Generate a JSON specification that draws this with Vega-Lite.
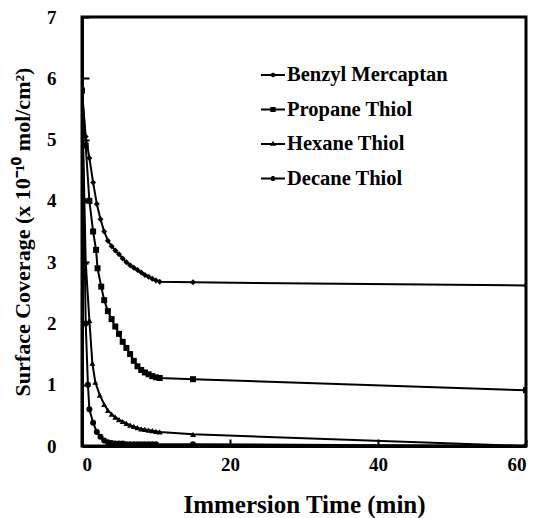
{
  "$schema": "https://vega.github.io/schema/vega-lite/v6.json",
  "width": 444,
  "height": 429,
  "autosize": {"type": "none"},
  "padding": {"left": 82, "top": 17, "right": 12, "bottom": 72},
  "background": "white",
  "config": {
    "view": {"stroke": "black", "strokeWidth": 3},
    "font": "Liberation Serif",
    "axis": {
      "labelFont": "Liberation Serif", "labelFontWeight": "bold", "labelColor": "black",
      "titleFont": "Liberation Serif", "titleFontWeight": "bold", "titleColor": "black",
      "domainColor": "black", "domainWidth": 3, "tickColor": "black", "tickWidth": 2,
      "grid": false
    }
  },
  "data": {"values": [
    {"t": 0, "s": "Benzyl Mercaptan", "v": 5.8},
    {"t": 0.5, "s": "Benzyl Mercaptan", "v": 5.05},
    {"t": 1, "s": "Benzyl Mercaptan", "v": 4.7},
    {"t": 1.5, "s": "Benzyl Mercaptan", "v": 4.3},
    {"t": 2, "s": "Benzyl Mercaptan", "v": 3.95},
    {"t": 2.5, "s": "Benzyl Mercaptan", "v": 3.7},
    {"t": 3, "s": "Benzyl Mercaptan", "v": 3.5},
    {"t": 3.5, "s": "Benzyl Mercaptan", "v": 3.35},
    {"t": 4, "s": "Benzyl Mercaptan", "v": 3.26},
    {"t": 4.5, "s": "Benzyl Mercaptan", "v": 3.19},
    {"t": 5, "s": "Benzyl Mercaptan", "v": 3.13},
    {"t": 5.5, "s": "Benzyl Mercaptan", "v": 3.06},
    {"t": 6, "s": "Benzyl Mercaptan", "v": 3.0},
    {"t": 6.5, "s": "Benzyl Mercaptan", "v": 2.95},
    {"t": 7, "s": "Benzyl Mercaptan", "v": 2.91},
    {"t": 7.5, "s": "Benzyl Mercaptan", "v": 2.87},
    {"t": 8, "s": "Benzyl Mercaptan", "v": 2.83},
    {"t": 8.5, "s": "Benzyl Mercaptan", "v": 2.79},
    {"t": 9, "s": "Benzyl Mercaptan", "v": 2.76},
    {"t": 9.5, "s": "Benzyl Mercaptan", "v": 2.73},
    {"t": 10, "s": "Benzyl Mercaptan", "v": 2.7},
    {"t": 10.5, "s": "Benzyl Mercaptan", "v": 2.68},
    {"t": 15, "s": "Benzyl Mercaptan", "v": 2.67},
    {"t": 60, "s": "Benzyl Mercaptan", "v": 2.62},
    {"t": 0, "s": "Propane Thiol", "v": 5.8},
    {"t": 0.5, "s": "Propane Thiol", "v": 4.9},
    {"t": 1, "s": "Propane Thiol", "v": 4.0},
    {"t": 1.5, "s": "Propane Thiol", "v": 3.5},
    {"t": 1.9, "s": "Propane Thiol", "v": 3.2},
    {"t": 2.1, "s": "Propane Thiol", "v": 2.9},
    {"t": 2.6, "s": "Propane Thiol", "v": 2.6},
    {"t": 3, "s": "Propane Thiol", "v": 2.38},
    {"t": 3.5, "s": "Propane Thiol", "v": 2.2},
    {"t": 4, "s": "Propane Thiol", "v": 2.07},
    {"t": 4.5, "s": "Propane Thiol", "v": 1.95},
    {"t": 5, "s": "Propane Thiol", "v": 1.83},
    {"t": 5.5, "s": "Propane Thiol", "v": 1.7},
    {"t": 6, "s": "Propane Thiol", "v": 1.6},
    {"t": 6.5, "s": "Propane Thiol", "v": 1.5},
    {"t": 7, "s": "Propane Thiol", "v": 1.39},
    {"t": 7.5, "s": "Propane Thiol", "v": 1.3},
    {"t": 8, "s": "Propane Thiol", "v": 1.24},
    {"t": 8.5, "s": "Propane Thiol", "v": 1.2},
    {"t": 9, "s": "Propane Thiol", "v": 1.17},
    {"t": 9.5, "s": "Propane Thiol", "v": 1.14},
    {"t": 10, "s": "Propane Thiol", "v": 1.12},
    {"t": 10.5, "s": "Propane Thiol", "v": 1.11},
    {"t": 15, "s": "Propane Thiol", "v": 1.09},
    {"t": 60, "s": "Propane Thiol", "v": 0.91},
    {"t": 0, "s": "Hexane Thiol", "v": 5.8},
    {"t": 0.5, "s": "Hexane Thiol", "v": 3.0},
    {"t": 1, "s": "Hexane Thiol", "v": 2.05},
    {"t": 1.4, "s": "Hexane Thiol", "v": 1.35},
    {"t": 1.8, "s": "Hexane Thiol", "v": 1.04},
    {"t": 2.4, "s": "Hexane Thiol", "v": 0.83},
    {"t": 3, "s": "Hexane Thiol", "v": 0.68},
    {"t": 3.5, "s": "Hexane Thiol", "v": 0.58},
    {"t": 4, "s": "Hexane Thiol", "v": 0.52},
    {"t": 4.5, "s": "Hexane Thiol", "v": 0.47},
    {"t": 5, "s": "Hexane Thiol", "v": 0.43},
    {"t": 5.5, "s": "Hexane Thiol", "v": 0.4},
    {"t": 6, "s": "Hexane Thiol", "v": 0.37},
    {"t": 6.5, "s": "Hexane Thiol", "v": 0.34},
    {"t": 7, "s": "Hexane Thiol", "v": 0.32},
    {"t": 7.5, "s": "Hexane Thiol", "v": 0.3},
    {"t": 8, "s": "Hexane Thiol", "v": 0.28},
    {"t": 8.5, "s": "Hexane Thiol", "v": 0.27},
    {"t": 9, "s": "Hexane Thiol", "v": 0.26},
    {"t": 9.5, "s": "Hexane Thiol", "v": 0.25},
    {"t": 10, "s": "Hexane Thiol", "v": 0.24},
    {"t": 10.5, "s": "Hexane Thiol", "v": 0.23},
    {"t": 15, "s": "Hexane Thiol", "v": 0.19},
    {"t": 60, "s": "Hexane Thiol", "v": 0.0},
    {"t": 0, "s": "Decane Thiol", "v": 5.8},
    {"t": 0.25, "s": "Decane Thiol", "v": 4.0},
    {"t": 0.5, "s": "Decane Thiol", "v": 2.0},
    {"t": 0.8, "s": "Decane Thiol", "v": 1.0},
    {"t": 1, "s": "Decane Thiol", "v": 0.6},
    {"t": 1.5, "s": "Decane Thiol", "v": 0.38},
    {"t": 2, "s": "Decane Thiol", "v": 0.23},
    {"t": 2.5, "s": "Decane Thiol", "v": 0.15},
    {"t": 3, "s": "Decane Thiol", "v": 0.09},
    {"t": 3.5, "s": "Decane Thiol", "v": 0.06},
    {"t": 4, "s": "Decane Thiol", "v": 0.05},
    {"t": 4.5, "s": "Decane Thiol", "v": 0.04},
    {"t": 5, "s": "Decane Thiol", "v": 0.04},
    {"t": 5.5, "s": "Decane Thiol", "v": 0.04},
    {"t": 6, "s": "Decane Thiol", "v": 0.03},
    {"t": 6.5, "s": "Decane Thiol", "v": 0.03},
    {"t": 7, "s": "Decane Thiol", "v": 0.03},
    {"t": 7.5, "s": "Decane Thiol", "v": 0.03},
    {"t": 8, "s": "Decane Thiol", "v": 0.03},
    {"t": 8.5, "s": "Decane Thiol", "v": 0.03},
    {"t": 9, "s": "Decane Thiol", "v": 0.03},
    {"t": 9.5, "s": "Decane Thiol", "v": 0.03},
    {"t": 10, "s": "Decane Thiol", "v": 0.03},
    {"t": 15, "s": "Decane Thiol", "v": 0.03},
    {"t": 60, "s": "Decane Thiol", "v": 0.0}
  ]},
  "encoding": {
    "x": {"field": "t", "type": "quantitative",
      "scale": {"domain": [0, 60], "nice": false, "zero": false},
      "axis": {"values": [0, 20, 40, 60], "tickSize": -7, "labelPadding": 16, "labelFontSize": 19,
        "title": "Immersion Time (min)", "titleFontSize": 25, "titlePadding": 18}},
    "y": {"field": "v", "type": "quantitative",
      "scale": {"domain": [0, 7], "nice": false},
      "axis": {"values": [0, 1, 2, 3, 4, 5, 6, 7], "tickSize": -7, "labelPadding": 33, "labelFontSize": 19,
        "title": "Surface Coverage (x 10⁻¹⁰ mol/cm²)", "titleFontSize": 22, "titlePadding": 12}}
  },
  "layer": [
    {
      "mark": {"type": "line", "color": "black", "strokeWidth": 2, "clip": true},
      "encoding": {"detail": {"field": "s"}}
    },
    {
      "mark": {"type": "point", "filled": true, "color": "black", "opacity": 1, "size": 36, "clip": true},
      "encoding": {
        "shape": {"field": "s", "type": "nominal",
          "scale": {"domain": ["Benzyl Mercaptan", "Propane Thiol", "Hexane Thiol", "Decane Thiol"],
            "range": ["diamond", "square", "triangle-up", "circle"]},
          "legend": null}
      }
    },
    {
      "transform": [{"filter": "datum.t < -100"}],
      "mark": {"type": "point", "filled": true, "color": "black", "opacity": 1},
      "encoding": {
        "shape": {"field": "s", "type": "nominal",
          "scale": {"domain": ["Benzyl Mercaptan", "Propane Thiol", "Hexane Thiol", "Decane Thiol"],
            "range": [
              "M-1,-0.075H-0.2L0,-0.2L0.2,-0.075H1V0.075H0.2L0,0.2L-0.2,0.075H-1Z",
              "M-1,-0.075H-0.22V-0.2H0.22V-0.075H1V0.075H0.22V0.2H-0.22V0.075H-1Z",
              "M-1,-0.075H-0.12L0,-0.25L0.12,-0.075H1V0.075H0.22L0.25,0.15H-0.25L-0.22,0.075H-1Z",
              "M-1,-0.075H-0.19A0.2,0.2 0 0,1 0.19,-0.075H1V0.075H0.19A0.2,0.2 0 0,1 -0.19,0.075H-1Z"
            ]},
          "legend": {
            "title": null, "orient": "none", "legendX": 179, "legendY": 46,
            "symbolSize": 576, "symbolFillColor": "black", "symbolStrokeColor": "black",
            "symbolStrokeWidth": 0, "symbolOpacity": 1,
            "labelFont": "Liberation Serif", "labelFontWeight": "bold", "labelFontSize": 20.5,
            "labelColor": "black", "labelOffset": 2, "rowPadding": 11.5, "labelLimit": 300,
            "encode": {"symbols": {"update": {
              "fill": {"value": "black"}, "opacity": {"value": 1}}}}
          }
        }
      }
    }
  ],
  "resolve": {"scale": {"shape": "independent"}}
}
